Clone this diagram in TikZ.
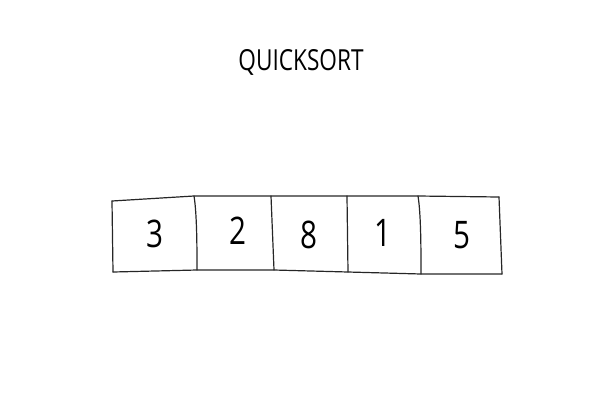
\documentclass[tikz,border=0pt]{standalone}
\usepackage{fontspec}
\setmainfont{Open Sans}[FakeStretch=0.78]
\usetikzlibrary{positioning}
\tikzset{
    sketch/.style={draw=black!85, line width=1.2pt, line cap=round, line join=round},
    digit/.style={font=\fontsize{38}{40}\selectfont, inner sep=0pt},
    heading/.style={font=\fontsize{29}{30}\selectfont, inner sep=0pt}
}
\begin{document}
\begin{tikzpicture}[x=1pt, y=-1pt]
    \useasboundingbox (0,0) rectangle (600,400);
    \node[heading] (title) at (301,62) {QUICKSORT};
    % corners of the row
    \coordinate (t0) at (112,201);
    \coordinate (t1) at (194,196);
    \coordinate (t2) at (271,196);
    \coordinate (t3) at (347,196);
    \coordinate (t4) at (418,196);
    \coordinate (t5) at (499,197);
    \coordinate (b0) at (113,272);
    \coordinate (b1) at (197,270);
    \coordinate (b2) at (274,270);
    \coordinate (b3) at (348,272);
    \coordinate (b4) at (421,274);
    \coordinate (b5) at (502,274);
    \draw[sketch] (t0) -- (t1) -- (t2) -- (t3) -- (t4) -- (t5);
    \draw[sketch] (b0) -- (b1) -- (b2) -- (b3) -- (b4) -- (b5);
    \draw[sketch] (t0) -- (b0);
    \draw[sketch] (t1) .. controls (197,214) and (197,250) .. (b1);
    \draw[sketch] (t2) -- (b2);
    \draw[sketch] (t3) -- (b3);
    \draw[sketch] (t4) .. controls (421,214) and (421,250) .. (b4);
    \draw[sketch] (t5) -- (b5);
    % values
    \node[digit] (v1) at (155,234) {3};
    \node[digit] (v2) at (238,231) {2};
    \node[digit] (v3) at (309,235) {8};
    \node[digit] (v4) at (383,233) {1};
    \node[digit] (v5) at (462,235) {5};
\end{tikzpicture}
\end{document}
